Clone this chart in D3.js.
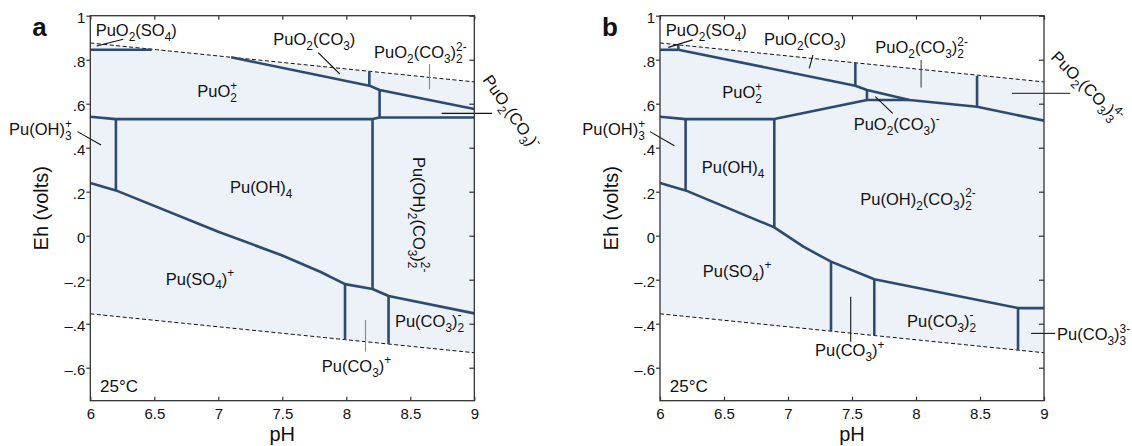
<!DOCTYPE html>
<html>
<head>
<meta charset="utf-8">
<script src="https://cdn.jsdelivr.net/npm/d3@7"></script>
<style>
  body { margin: 0; background: #fff; }
  svg text { font-family: "Liberation Sans", Arial, sans-serif; fill: #111; }
</style>
</head>
<body>
<svg id="chart" width="1132" height="446"></svg>
<script>
// axis ticks
var phTicks = [6, 6.5, 7, 7.5, 8, 8.5, 9];
var ehTicks = [-0.6, -0.4, -0.2, 0, 0.2, 0.4, 0.6, 0.8, 1];

// water stability limits (dashed)
var waterTop    = [[6, 0.876], [9, 0.699]];
var waterBottom = [[6, -0.355], [9, -0.532]];

// panel a boundaries [pH, Eh]
var linesA = [
  [[6, 0.845], [6.48, 0.845]],
  [[7.10, 0.811], [8.18, 0.682], [8.26, 0.662], [9, 0.576]],
  [[8.18, 0.747], [8.18, 0.682]],
  [[8.26, 0.662], [8.26, 0.537]],
  [[6, 0.541], [6.2, 0.530], [8.205, 0.530], [8.26, 0.537], [9, 0.537]],
  [[6.2, 0.530], [6.2, 0.206]],
  [[6, 0.24], [6.2, 0.206], [7, 0.018], [7.5, -0.09], [7.8, -0.165], [7.99, -0.22], [8.205, -0.242], [8.33, -0.274], [9, -0.353]],
  [[7.99, -0.22], [7.99, -0.473]],
  [[8.205, 0.530], [8.205, -0.242]],
  [[8.33, -0.274], [8.33, -0.492]]
];

// panel b boundaries
var linesB = [
  [[6, 0.845], [6.143, 0.845]],
  [[6.143, 0.867], [6.143, 0.845]],
  [[6.143, 0.845], [7.526, 0.682], [7.617, 0.662], [7.95, 0.617], [8.477, 0.586], [9, 0.523]],
  [[7.526, 0.786], [7.526, 0.682]],
  [[8.477, 0.726], [8.477, 0.586]],
  [[7.617, 0.662], [7.617, 0.617], [7.95, 0.617]],
  [[6, 0.541], [6.2, 0.530], [6.893, 0.530], [7.617, 0.617]],
  [[6.2, 0.530], [6.2, 0.206]],
  [[6.893, 0.530], [6.893, 0.038]],
  [[6, 0.24], [6.2, 0.206], [6.893, 0.038], [7.12, -0.05], [7.336, -0.118], [7.674, -0.198], [8.797, -0.329], [9, -0.329]],
  [[7.336, -0.118], [7.336, -0.434]],
  [[7.674, -0.198], [7.674, -0.454]],
  [[8.797, -0.329], [8.797, -0.52]]
];

// species labels: formula, pH, Eh (start of baseline), rotation
var labelsA = [
  ['PuO_2(SO_4)', 6.042, 0.908, 0],
  ['PuO_2(CO_3)', 7.43, 0.867, 0],
  ['PuO_2(CO_3)_2^2-', 8.217, 0.806, 0],
  ['PuO_2^+', 6.836, 0.630, 0],
  ['Pu(OH)_3^+', 5.365, 0.458, 0],
  ['Pu(OH)_4', 7.091, 0.194, 0],
  ['Pu(SO_4)^+', 6.589, -0.222, 0],
  ['Pu(OH)_2(CO_3)_2^2-', 8.524, 0.358, 90],
  ['Pu(CO_3)_2^-', 8.38, -0.414, 0],
  ['Pu(CO_3)^+', 7.808, -0.618, 0],
  ['PuO_2(CO_3)^-', 9.06, 0.708, 55],
  ['25°C', 6.076, -0.709, 0]
];
var labelsB = [
  ['PuO_2(SO_4)', 6.045, 0.908, 0],
  ['PuO_2(CO_3)', 6.812, 0.867, 0],
  ['PuO_2^+', 6.487, 0.625, 0],
  ['Pu(OH)_3^+', 5.393, 0.458, 0],
  ['Pu(OH)_4', 6.326, 0.284, 0],
  ['Pu(SO_4)^+', 6.334, -0.186, 0],
  ['Pu(CO_3)^+', 7.211, -0.547, 0],
  ['PuO_2(CO_3)_2^2-', 7.682, 0.829, 0],
  ['PuO_2(CO_3)^-', 7.513, 0.480, 0],
  ['Pu(OH)_2(CO_3)_2^2-', 7.565, 0.140, 0],
  ['Pu(CO_3)_2^-', 7.93, -0.414, 0],
  ['Pu(CO_3)_3^3-', 9.102, -0.474, 0],
  ['PuO_2(CO_3)_3^4-', 9.047, 0.808, 45],
  ['25°C', 6.076, -0.709, 0]
];

// leader lines: points, colour
var leadersA = [
  [[[6.05, 0.862], [6.258, 0.893]], '#111'],
  [[[7.78, 0.832], [7.95, 0.735]], '#111'],
  [[[8.65, 0.78], [8.65, 0.665]], '#888'],
  [[[8.745, 0.556], [9.14, 0.556]], '#111'],
  [[[5.9, 0.473], [6.084, 0.412]], '#111'],
  [[[8.15, -0.383], [8.15, -0.527]], '#888']
];
var leadersB = [
  [[[6.065, 0.856], [6.255, 0.89]], '#111'],
  [[[7.195, 0.821], [7.166, 0.761]], '#111'],
  [[[5.922, 0.473], [6.112, 0.409]], '#111'],
  [[[7.49, -0.277], [7.49, -0.482]], '#111'],
  [[[8.04, 0.799], [8.04, 0.674]], '#444'],
  [[[7.682, 0.632], [7.818, 0.556]], '#111'],
  [[[8.9, -0.444], [9.088, -0.444]], '#111'],
  [[[8.75, 0.647], [9.205, 0.647]], '#444']
];

var svg = d3.select('#chart');
var y = d3.scaleLinear().domain([-0.75, 1]).range([400.7, 15.7]);

var ehFormat = function(d) {
  if (d === 0) return '0';
  if (d === 1) return '1';
  var s = Math.abs(d).toFixed(1).replace(/^0/, '');
  return d < 0 ? '\u2013' + s : s;
};

function parseFormula(s) {
  var out = [], i = 0;
  while (i < s.length) {
    var ch = s[i], j, v = '';
    if (ch === '_' || ch === '^') {
      j = i + 1;
      while (j < s.length && /[0-9+\-]/.test(s[j])) { v += s[j]; j++; }
      out.push({k: ch === '_' ? 'sub' : 'sup', s: v});
    } else {
      j = i;
      while (j < s.length && s[j] !== '_' && s[j] !== '^') { v += s[j]; j++; }
      out.push({k: 'n', s: v});
    }
    i = j;
  }
  return out;
}

function drawFormula(g, str, size) {
  var cx = 0, lastSub = null, small = size * 0.72;
  parseFormula(str).forEach(function(tk) {
    var el, w;
    if (tk.k === 'n') {
      el = g.append('text').attr('x', cx).attr('y', 0).attr('font-size', size).text(tk.s);
      cx += el.node().getComputedTextLength();
      lastSub = null;
    } else if (tk.k === 'sub') {
      el = g.append('text').attr('x', cx).attr('y', size * 0.3).attr('font-size', small).text(tk.s);
      w = el.node().getComputedTextLength();
      lastSub = {x: cx, w: w};
      cx += w;
    } else {
      var x0 = lastSub ? lastSub.x : cx;
      el = g.append('text').attr('x', x0).attr('y', -size * 0.45).attr('font-size', small).text(tk.s);
      w = el.node().getComputedTextLength();
      cx = lastSub ? Math.max(cx, x0 + w) : cx + w;
      lastSub = null;
    }
  });
}

function drawPanel(left, letter, lines, labels, leaders) {
  var x = d3.scaleLinear().domain([6, 9]).range([left, left + 384]);
  var line = d3.line().x(function(d) { return x(d[0]); }).y(function(d) { return y(d[1]); });
  var g = svg.append('g');

  // stability field fill
  var field = waterTop.concat(waterBottom.slice().reverse());
  g.append('path').attr('d', line(field) + 'Z').attr('fill', '#edf1f8');

  // water limits
  [waterTop, waterBottom].forEach(function(w) {
    g.append('path').attr('d', line(w)).attr('fill', 'none')
      .attr('stroke', '#111').attr('stroke-width', 1).attr('stroke-dasharray', '4,2.5');
  });

  // boundaries
  g.selectAll('.bound').data(lines).enter().append('path')
    .attr('class', 'bound')
    .attr('d', line)
    .attr('fill', 'none')
    .attr('stroke', '#2d4b70')
    .attr('stroke-width', 2.6)
    .attr('stroke-linejoin', 'round');

  // leader lines
  leaders.forEach(function(l) {
    g.append('path').attr('d', line(l[0])).attr('fill', 'none')
      .attr('stroke', l[1]).attr('stroke-width', 1.1);
  });

  // axes
  var x0 = x(6), x1 = x(9), y0 = y(-0.75), y1 = y(1);
  var bottom = g.append('g').attr('transform', 'translate(0,' + y0 + ')')
    .call(d3.axisBottom(x).tickValues(phTicks).tickSize(-4).tickSizeOuter(0).tickPadding(8).tickFormat(d3.format('')));
  var top = g.append('g').attr('transform', 'translate(0,' + y1 + ')')
    .call(d3.axisTop(x).tickValues(phTicks).tickSize(-4).tickSizeOuter(0).tickFormat(''));
  var leftAx = g.append('g').attr('transform', 'translate(' + x0 + ',0)')
    .call(d3.axisLeft(y).tickValues(ehTicks).tickSize(4).tickSizeOuter(0).tickPadding(1).tickFormat(ehFormat));
  var rightAx = g.append('g').attr('transform', 'translate(' + x1 + ',0)')
    .call(d3.axisRight(y).tickValues(ehTicks).tickSize(-5).tickSizeOuter(0).tickFormat(''));
  [bottom, top, leftAx, rightAx].forEach(function(a) {
    a.select('.domain').remove();
    a.selectAll('line').attr('stroke', '#333').attr('stroke-width', 1.2);
    a.selectAll('text').attr('font-size', 15).attr('fill', '#111')
      .attr('font-family', '"Liberation Sans", Arial, sans-serif');
  });
  leftAx.selectAll('text').attr('dy', '0.45em');
  g.append('rect').attr('x', x0).attr('y', y1).attr('width', x1 - x0).attr('height', y0 - y1)
    .attr('fill', 'none').attr('stroke', '#333').attr('stroke-width', 1.3);

  // species labels
  labels.forEach(function(l) {
    var lg = g.append('g').attr('transform',
      'translate(' + x(l[1]) + ',' + y(l[2]) + ')' + (l[3] ? ' rotate(' + l[3] + ')' : ''));
    drawFormula(lg, l[0], l[0] === '25°C' ? 17 : 16.5);
  });

  // axis titles
  g.append('text').attr('x', (x0 + x1) / 2).attr('y', 441).attr('text-anchor', 'middle')
    .attr('font-size', 20).text('pH');
  g.append('text').attr('transform', 'translate(' + (x0 - 42) + ',' + ((y0 + y1) / 2) + ') rotate(-90)')
    .attr('text-anchor', 'middle').attr('font-size', 20).text('Eh (volts)');

  // panel letter
  g.append('text').attr('x', x0 - 58).attr('y', 36).attr('font-size', 26)
    .attr('font-weight', 'bold').text(letter);
}

drawPanel(90.3, 'a', linesA, labelsA, leadersA);
drawPanel(660, 'b', linesB, labelsB, leadersB);
</script>
</body>
</html>
